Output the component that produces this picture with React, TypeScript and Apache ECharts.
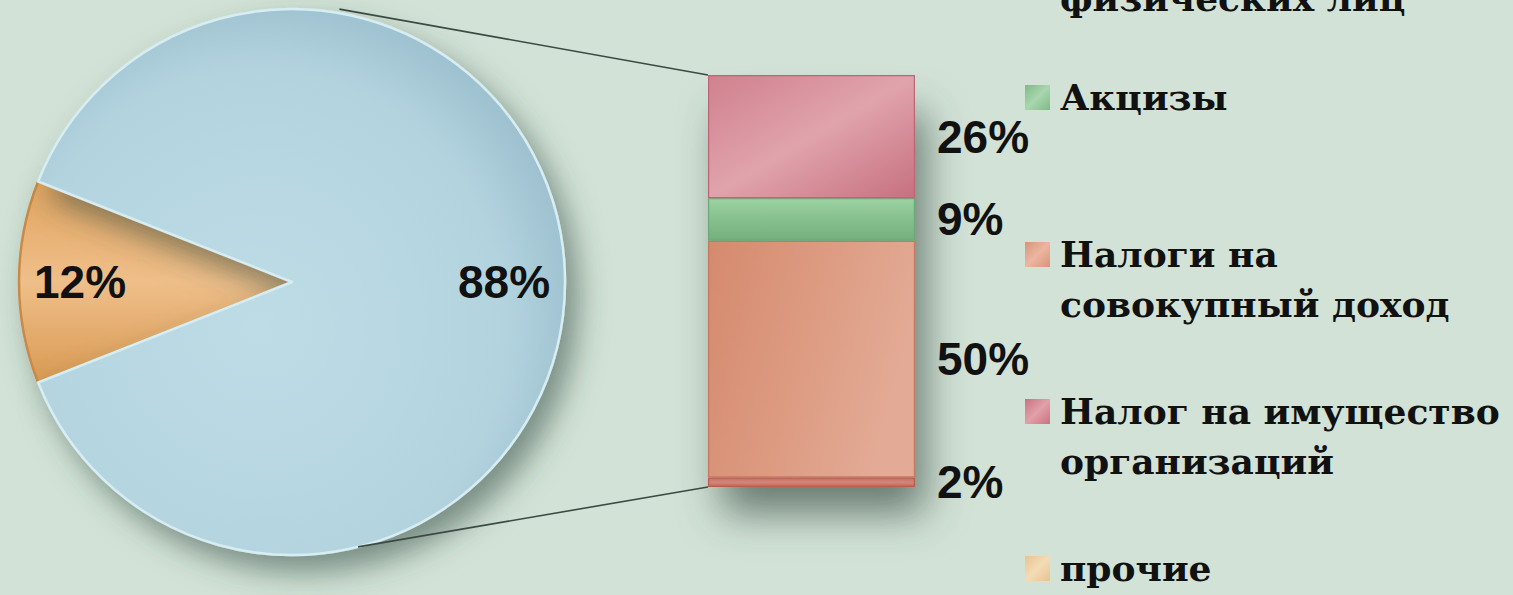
import React, { useEffect, useRef } from "react";
import * as echarts from "echarts";

// ---- data ----
const pieNames = ["прочие", "Остальные налоги"];
const pieValues = [12, 88];
const pieLabels = ["12%", "88%"];

// bar segments, bottom → top
const barNames = [
  "Налог на доходы физических лиц",
  "Налоги на совокупный доход",
  "Акцизы",
  "Налог на имущество организаций",
];
const barValues = [2, 50, 9, 26];
const barLabels = ["2%", "50%", "9%", "26%"];

const legendNames = [
  "Налог на доходы\nфизических лиц",
  "Акцизы",
  "Налоги на\nсовокупный доход",
  "Налог на имущество\nорганизаций",
  "прочие",
];

// ---- styles ----
const W = 1513;
const H = 595;
const BG = "#d2e2d6";
const PIE_CX = 292;
const PIE_CY = 282;
const PIE_R = 273;
const BAR_LEFT = 708;
const BAR_TOP = 75;
const BAR_W = 207;
const BAR_H = 412;

const lin = (a: string, b: string, c: string, x2 = 1, y2 = 0) => ({
  type: "linear",
  x: 0,
  y: 0,
  x2,
  y2,
  colorStops: [
    { offset: 0, color: a },
    { offset: 0.5, color: b },
    { offset: 1, color: c },
  ],
});

const pieColors = [
  lin("#e3a45f", "#efbf8a", "#d99a52", 0, 1),
  {
    type: "radial",
    x: 0.42,
    y: 0.58,
    r: 0.62,
    colorStops: [
      { offset: 0, color: "#bedce6" },
      { offset: 0.75, color: "#b3d4df" },
      { offset: 1, color: "#9cbfce" },
    ],
  },
];
const pieBorders = ["#c98a48", "#d6edf3"];

const barColors = [
  lin("#c46f63", "#d58676", "#c06a5e", 0, 1),
  lin("#d58a6e", "#dc9a80", "#e3aa95", 1, 0.3),
  lin("#9bd3a2", "#86c08e", "#74b07e", 0, 1),
  lin("#d0818e", "#e0a3ac", "#c7717f", 1, 1),
];
const barBorders = ["#b5604f", "#c27a60", "#6fa878", "#bb6675"];

const legendColors = ["#c46f63", "#7fba88", "#d9937a", "#c9727f", "#e8c392"];
const legendLight = ["#dc9a8e", "#a9d6ae", "#ecb6a0", "#e2a0aa", "#f3dcb6"];

export default function App() {
  const ref = useRef<HTMLDivElement>(null);

  useEffect(() => {
    document.body.style.margin = "0";
    const chart = echarts.init(ref.current!, null, { renderer: "svg" });

    const total = pieValues.reduce((a, b) => a + b, 0);
    const startAngle = 180 + (pieValues[0] / total) * 180;
    const barSum = barValues.reduce((a, b) => a + b, 0);

    const rad = (d: number) => (d * Math.PI) / 180;
    const topPt = [PIE_CX + PIE_R * Math.cos(rad(80)), PIE_CY - PIE_R * Math.sin(rad(80))];
    const botPt = [PIE_CX + PIE_R * Math.cos(rad(-76)), PIE_CY - PIE_R * Math.sin(rad(-76))];

    const legendStart = -47;
    const legendStep = 157;
    const legendGraphics: any[] = [];
    legendNames.forEach((name, i) => {
      const base = i === 0 ? legendStart + 8 : legendStart + i * legendStep;
      legendGraphics.push({
        type: "rect",
        shape: { x: 1025, y: base - 25, width: 25, height: 25 },
        style: {
          fill: {
            type: "linear",
            x: 0,
            y: 0,
            x2: 1,
            y2: 1,
            colorStops: [
              { offset: 0, color: legendColors[i] },
              { offset: 0.5, color: legendLight[i] },
              { offset: 1, color: legendColors[i] },
            ],
          },
        },
        z: 10,
      });
      legendGraphics.push({
        type: "text",
        x: 1060,
        y: base - 38,
        style: {
          text: name,
          fill: "#111111",
          fontFamily: "DejaVu Serif",
          fontWeight: "bold",
          fontSize: 36,
          lineHeight: 50,
          verticalAlign: "top",
        },
        z: 10,
      });
    });

    chart.setOption({
      animation: false,
      backgroundColor: BG,
      grid: { left: BAR_LEFT, top: BAR_TOP, width: BAR_W, height: BAR_H },
      xAxis: { type: "category", data: ["bar"], show: false },
      yAxis: { type: "value", min: 0, max: barSum, show: false },
      graphic: [
        {
          type: "rect",
          shape: { x: BAR_LEFT + 4, y: BAR_TOP + 10, width: BAR_W - 4, height: BAR_H - 12 },
          style: {
            fill: "#9fb3a8",
            shadowBlur: 40,
            shadowOffsetX: 10,
            shadowOffsetY: 28,
            shadowColor: "rgba(60,80,70,0.7)",
          },
          z: 0,
        },
        {
          type: "line",
          shape: { x1: topPt[0], y1: topPt[1] - 4, x2: BAR_LEFT, y2: BAR_TOP },
          style: { stroke: "#3c4a44", lineWidth: 1.6 },
          z: 5,
        },
        {
          type: "line",
          shape: { x1: botPt[0], y1: botPt[1], x2: BAR_LEFT, y2: BAR_TOP + BAR_H },
          style: { stroke: "#3c4a44", lineWidth: 1.6 },
          z: 5,
        },
        ...legendGraphics,
      ],
      series: [
        {
          type: "pie",
          center: [PIE_CX, PIE_CY],
          radius: [0, PIE_R],
          startAngle,
          clockwise: true,
          label: { show: false },
          labelLine: { show: false },
          silent: true,
          z: 2,
          itemStyle: {
            shadowBlur: 30,
            shadowOffsetX: 12,
            shadowOffsetY: 16,
            shadowColor: "rgba(50,70,60,0.55)",
          },
          data: pieNames.map((n, i) => ({
            name: n,
            value: pieValues[i],
            itemStyle: { color: pieColors[i], borderColor: pieBorders[i], borderWidth: 2.5 },
          })),
        },
        {
          type: "pie",
          center: [PIE_CX, PIE_CY],
          radius: [145, PIE_R],
          startAngle,
          clockwise: true,
          silent: true,
          z: 3,
          labelLine: { show: false },
          itemStyle: { color: "rgba(0,0,0,0)", borderWidth: 0 },
          label: {
            show: true,
            position: "inside",
            color: "#111111",
            fontFamily: "Liberation Sans",
            fontWeight: "bold",
            fontSize: 46,
            formatter: (p: any) => pieLabels[p.dataIndex],
          },
          data: pieNames.map((n, i) => ({ name: n, value: pieValues[i] })),
        },
        ...barNames.map((n, i) => ({
          type: "bar",
          name: n,
          stack: "total",
          barWidth: "100%",
          silent: true,
          data: [barValues[i]],
          itemStyle: { color: barColors[i], borderColor: barBorders[i], borderWidth: 1.2 },
          label: {
            show: true,
            position: "right",
            distance: 22,
            color: "#111111",
            fontFamily: "Liberation Sans",
            fontWeight: "bold",
            fontSize: 46,
            formatter: () => barLabels[i],
          },
        })),
      ],
    });

    return () => chart.dispose();
  }, []);

  return <div ref={ref} style={{ width: W, height: H }} />;
}
